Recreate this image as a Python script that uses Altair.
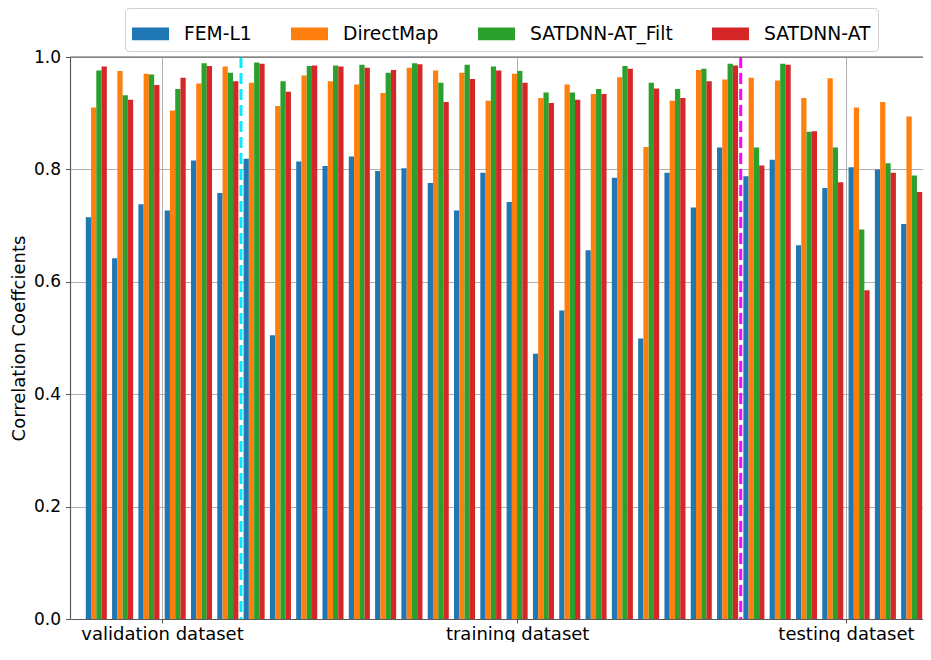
import altair as alt
import pandas as pd

series = ["FEM-L1", "DirectMap", "SATDNN-AT_Filt", "SATDNN-AT"]
colors = ["#1f77b4", "#ff7f0e", "#2ca02c", "#d62728"]

fem_l1 = [0.715, 0.642, 0.738, 0.727, 0.816, 0.758, 0.819, 0.505, 0.814, 0.806,
          0.823, 0.797, 0.802, 0.776, 0.727, 0.794, 0.742, 0.472, 0.549, 0.656,
          0.785, 0.499, 0.794, 0.732, 0.839, 0.788, 0.817, 0.665, 0.767, 0.804,
          0.800, 0.703]
direct_map = [0.910, 0.975, 0.970, 0.905, 0.953, 0.983, 0.954, 0.913, 0.967, 0.957,
              0.951, 0.936, 0.981, 0.976, 0.972, 0.922, 0.970, 0.927, 0.951, 0.934,
              0.964, 0.840, 0.922, 0.977, 0.960, 0.963, 0.958, 0.927, 0.962, 0.910,
              0.920, 0.894]
satdnn_filt = [0.976, 0.932, 0.969, 0.943, 0.989, 0.972, 0.990, 0.957, 0.984, 0.985,
               0.986, 0.972, 0.989, 0.954, 0.986, 0.983, 0.975, 0.937, 0.937, 0.943,
               0.984, 0.954, 0.943, 0.979, 0.988, 0.839, 0.988, 0.867, 0.839, 0.693,
               0.811, 0.789]
satdnn_at = [0.983, 0.924, 0.950, 0.963, 0.984, 0.957, 0.988, 0.938, 0.985, 0.983,
             0.981, 0.977, 0.987, 0.920, 0.961, 0.976, 0.954, 0.918, 0.924, 0.934,
             0.979, 0.944, 0.927, 0.957, 0.985, 0.807, 0.986, 0.868, 0.777, 0.585,
             0.794, 0.760]

tick_positions = [2.5, 16, 28.5]
tick_labels = ["validation dataset", "training dataset", "testing dataset"]
split_positions = [5.5, 24.5]
split_colors = ["#00eeff", "#ff00ff"]

rows = []
for k, (name, vals) in enumerate(zip(series, [fem_l1, direct_map, satdnn_filt, satdnn_at])):
    for g, v in enumerate(vals):
        rows.append({"group": g, "series": name, "k": k, "value": v})
df = pd.DataFrame(rows)

FONT = "DejaVu Sans"
SPINE = "#5a5a5a"
GRID = "#b0b0b0"
W, H = 853, 562
xscale = alt.Scale(domain=[-1, 31.43], nice=False, zero=False)
yscale = alt.Scale(domain=[0, 1], nice=False)

label_expr = " : ".join(
    [f"datum.value == {p} ? '{l}'" for p, l in zip(tick_positions, tick_labels)]
) + " : ''"

bars = alt.Chart(df).transform_calculate(
    x0="datum.group + (datum.k - 2) * 0.2",
    x1="datum.group + (datum.k - 1) * 0.2",
).mark_bar(strokeWidth=0).encode(
    x=alt.X("x0:Q", scale=xscale,
            axis=alt.Axis(values=tick_positions, labelExpr=label_expr, title=None,
                          grid=True, gridColor=GRID, gridWidth=1,
                          domainColor=SPINE, domainWidth=1.2,
                          tickColor=SPINE, tickSize=4, labelPadding=2,
                          labelFontSize=18, labelFont=FONT, labelColor="#000000",
                          labelFlush=False, labelOverlap=False)),
    x2="x1:Q",
    y=alt.Y("value:Q", scale=yscale,
            axis=alt.Axis(values=[0, 0.2, 0.4, 0.6, 0.8, 1.0], format=".1f",
                          title="Correlation Coeffcients", titleFontSize=18,
                          titleFont=FONT, titleFontWeight="normal", titleColor="#000000",
                          titlePadding=5,
                          grid=True, gridColor=GRID, gridWidth=1,
                          domainColor=SPINE, domainWidth=1.2,
                          tickColor=SPINE, tickSize=4.5, labelPadding=5,
                          labelFontSize=17, labelFont=FONT, labelColor="#000000")),
    y2=alt.datum(0),
    color=alt.Color("series:N", sort=series,
                    scale=alt.Scale(domain=series, range=colors),
                    legend=alt.Legend(title=None, orient="none", legendX=55, legendY=-49,
                                      direction="horizontal", columns=4,
                                      columnPadding=39, padding=7,
                                      strokeColor="#d0d0d0", fillColor="#ffffff",
                                      cornerRadius=4,
                                      symbolType="M-1,-0.343H1V0.343H-1Z",
                                      symbolSize=1369, symbolStrokeWidth=0,
                                      symbolOpacity=1,
                                      labelFontSize=18.7, labelFont=FONT,
                                      labelColor="#000000", labelOffset=15)),
)

split_df = pd.DataFrame({"pos": split_positions, "c": split_colors})
splits = alt.Chart(split_df).mark_rule(strokeWidth=3, strokeDash=[11, 5]).encode(
    x=alt.X("pos:Q", scale=xscale),
    color=alt.Color("c:N", scale=None, legend=None),
)

top_spine = alt.Chart(pd.DataFrame({"a": [0]})).mark_rule(
    color=SPINE, strokeWidth=1.2
).encode(y=alt.value(0), x=alt.value(0), x2=alt.value(W))

chart = alt.layer(bars, splits, top_spine).resolve_scale(color="independent").properties(
    width=W, height=H,
    autosize=alt.AutoSizeParams(type="none"),
    padding={"left": 62, "top": 49, "right": 0, "bottom": 23},
).configure_view(stroke=None)

chart.save("out.html", embed_options={"renderer": "svg", "actions": False})
